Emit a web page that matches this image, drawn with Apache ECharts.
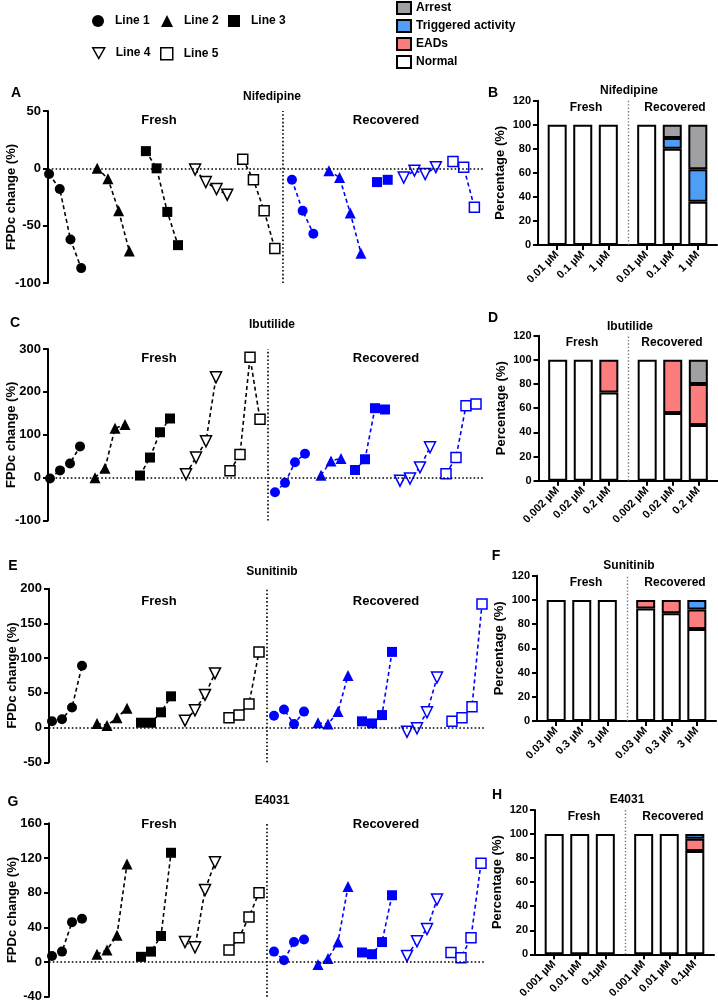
<!DOCTYPE html>
<html>
<head>
<meta charset="utf-8">
<title>FPDc change and arrhythmia percentage</title>
<script src="https://cdn.jsdelivr.net/npm/echarts@6/dist/echarts.min.js"></script>
<style>
  html, body { margin: 0; padding: 0; background: #fff; }
  #main { width: 718px; height: 1008px; }
</style>
</head>
<body>
<div id="main"></div>
<script>
// ---- data ----
var lineNames = ['Line 1', 'Line 2', 'Line 3', 'Line 4', 'Line 5'];
var drugs = ['Nifedipine', 'Ibutilide', 'Sunitinib', 'E4031'];
var groups = ['Fresh', 'Recovered'];

// FPDc change (%) per line, doses low -> high
var nifFresh = [[-5, -18, -62, -87], [0, -9, -37, -72], [15, 0, -38, -67], [-1, -12, -18, -23], [8, -10, -37, -70]];
var nifRecovered = [[-10, -37, -57], [-2, -8, -39, -74], [-12, -10], [-8, -2, -5, 1], [6, 1, -34]];
var ibuFresh = [[-2, 17, 33, 73], [0, 22, 115, 124], [5, 47, 106, 138], [8, 47, 85, 234], [16, 54, 281, 136]];
var ibuRecovered = [[-34, -12, 36, 56], [6, 39, 45], [18, 43, 162, 159], [-7, -2, 24, 71], [9, 47, 168, 172]];
var sunFresh = [[9, 12, 29, 89], [6, 3, 14, 28], [7, 7, 22, 45], [10, 25, 47, 78], [14, 18, 34, 109]];
var sunRecovered = [[17, 26, 5, 23], [7, 5, 23, 75], [9, 6, 18, 109], [-6, -1, 22, 72], [9, 14, 30, 178]];
var e40Fresh = [[7, 12, 46, 50], [9, 14, 31, 113], [6, 12, 30, 126], [23, 17, 83, 115], [14, 28, 52, 80]];
var e40Recovered = [[12, 2, 23, 26], [-3, 4, 23, 87], [11, 9, 23, 77], [7, 24, 38, 72], [11, 5, 28, 114]];

// slot where each line's first dose sits, and the Fresh/Recovered divider
var nifFreshSlot = [0.1, 4.6, 9.15, 13.75, 18.2];
var nifRecoveredSlot = [22.8, 26.25, 30.75, 33.25, 37.85];
var nifDivider = 21.95;
var ibuFreshSlot = [0.2, 4.7, 9.2, 13.8, 18.2];
var ibuRecoveredSlot = [22.7, 27.3, 30.7, 35.2, 39.8];
var ibuDivider = 22;
var sunFreshSlot = [0.3, 4.8, 9.2, 13.6, 18];
var sunRecoveredSlot = [22.5, 26.9, 31.3, 35.8, 40.3];
var sunDivider = 21.8;
var e40FreshSlot = [0.3, 4.8, 9.2, 13.6, 18];
var e40RecoveredSlot = [22.5, 26.9, 31.3, 35.8, 40.2];
var e40Divider = 21.8;

// percentage of outcomes, Fresh x3 then Recovered x3
var outcomeNames = ['Normal', 'EADs', 'Triggered activity', 'Arrest'];
var barBands = 14;                    // half-slot bands on the bar x axis
var barSlot = [1, 3, 5, 8, 10, 12];   // band of each bar
var barDivider = 7.05;
var nifDoses = ['0.01 \u00b5M', '0.1 \u00b5M', '1 \u00b5M'];
var nifNormal = [100, 100, 100, 100, 80, 36];
var nifEADs = [0, 0, 0, 0, 0, 0];
var nifTriggered = [0, 0, 0, 0, 9, 27];
var nifArrest = [0, 0, 0, 0, 11, 37];
var ibuDoses = ['0.002 \u00b5M', '0.02 \u00b5M', '0.2 \u00b5M'];
var ibuNormal = [100, 100, 73, 100, 56, 46];
var ibuEADs = [0, 0, 27, 0, 44, 34];
var ibuTriggered = [0, 0, 0, 0, 0, 0];
var ibuArrest = [0, 0, 0, 0, 0, 20];
var sunDoses = ['0.03 \u00b5M', '0.3 \u00b5M', '3 \u00b5M'];
var sunNormal = [100, 100, 100, 93, 89, 76];
var sunEADs = [0, 0, 0, 7, 11, 16];
var sunTriggered = [0, 0, 0, 0, 0, 8];
var sunArrest = [0, 0, 0, 0, 0, 0];
var e40Doses = ['0.001 \u00b5M', '0.01 \u00b5M', '0.1\u00b5M'];
var e40Normal = [100, 100, 100, 100, 100, 86];
var e40EADs = [0, 0, 0, 0, 0, 10];
var e40Triggered = [0, 0, 0, 0, 0, 4];
var e40Arrest = [0, 0, 0, 0, 0, 0];

// ---- styles / layout ----
var FONT = '"Liberation Sans", Arial, sans-serif';
var NARROW = '"Liberation Sans Narrow", "Liberation Sans", Arial, sans-serif';
var BLUE = '#0000ff';
var outcomeColors = ['#ffffff', '#fb7d7d', '#4f9ef5', '#a0a0a4'];
var triDown = 'path://M0,0L10,0L5,9Z';
var symbols = ['circle', 'triangle', 'rect', triDown, 'rect'];
var hollow = [false, false, false, true, true];

var scatterPanels = [
  {fresh: nifFresh, rec: nifRecovered, fs: nifFreshSlot, rs: nifRecoveredSlot, div: nifDivider,
   min: -100, max: 50, step: 50, xMax: 40.75, left: 48, top: 111, height: 172},
  {fresh: ibuFresh, rec: ibuRecovered, fs: ibuFreshSlot, rs: ibuRecoveredSlot, div: ibuDivider,
   min: -100, max: 300, step: 100, xMax: 43.6, left: 48, top: 349, height: 171.6},
  {fresh: sunFresh, rec: sunRecovered, fs: sunFreshSlot, rs: sunRecoveredSlot, div: sunDivider,
   min: -50, max: 200, step: 50, xMax: 43.5, left: 49, top: 588.7, height: 173.6},
  {fresh: e40Fresh, rec: e40Recovered, fs: e40FreshSlot, rs: e40RecoveredSlot, div: e40Divider,
   min: -40, max: 160, step: 40, xMax: 43.5, left: 49, top: 823.3, height: 173.4}
];

var barPanels = [
  {doses: nifDoses, vals: [nifNormal, nifEADs, nifTriggered, nifArrest], left: 538, top: 100.7, height: 144.3},
  {doses: ibuDoses, vals: [ibuNormal, ibuEADs, ibuTriggered, ibuArrest], left: 538.5, top: 335.7, height: 145},
  {doses: sunDoses, vals: [sunNormal, sunEADs, sunTriggered, sunArrest], left: 537, top: 575.7, height: 145.3},
  {doses: e40Doses, vals: [e40Normal, e40EADs, e40Triggered, e40Arrest], left: 535, top: 810, height: 144.3}
];

var axisLineStyle = {color: '#000', width: 2};
var grids = [], xAxes = [], yAxes = [], series = [];

scatterPanels.forEach(function (p, k) {
  grids.push({left: p.left, top: p.top, width: 484 - p.left, height: p.height,
              containLabel: false, outerBoundsMode: 'none'});
  xAxes.push({gridIndex: k, type: 'value', min: 0, max: p.xMax, show: false});
  yAxes.push({
    gridIndex: k, type: 'value', min: p.min, max: p.max, interval: p.step,
    axisLine: {show: true, onZero: false, lineStyle: axisLineStyle},
    axisTick: {show: true, length: 5, lineStyle: axisLineStyle},
    axisLabel: {color: '#000', fontFamily: FONT, fontWeight: 'bold', fontSize: 13, margin: 7},
    splitLine: {show: false},
    name: 'FPDc change (%)', nameLocation: 'middle', nameGap: 30, nameMoveOverlap: false,
    nameTextStyle: {color: '#000', fontFamily: FONT, fontWeight: 'bold', fontSize: 13}
  });
  [[p.fresh, p.fs, '#000'], [p.rec, p.rs, BLUE]].forEach(function (g, c) {
    g[0].forEach(function (vals, j) {
      var s = {
        type: 'line', name: lineNames[j], xAxisIndex: k, yAxisIndex: k,
        data: vals.map(function (v, i) { return [g[1][j] + i, v]; }),
        symbol: symbols[j],
        symbolSize: (j === 1 || j === 3) ? 11 : 10,
        itemStyle: hollow[j] ? {color: '#fff', borderColor: g[2], borderWidth: 1.5} : {color: g[2]},
        lineStyle: {color: g[2], width: 1.6, type: [4, 3]},
        emphasis: {disabled: true},
        z: 3
      };
      if (c === 0 && j === 0) {
        s.markLine = {
          silent: true, symbol: ['none', 'none'], label: {show: false},
          lineStyle: {color: '#000', width: 1.6, type: [1.6, 2.2]},
          data: [{yAxis: 0}, {xAxis: p.div}]
        };
      }
      series.push(s);
    });
  });
});

var axisCount = 4;
barPanels.forEach(function (p, b) {
  var g = 4 + b;
  var catAxis = axisCount, lineAxis = axisCount + 1;
  axisCount += 2;
  var doseLabels = p.doses.concat(p.doses);
  var cats = [];
  for (var i = 0; i < barBands; i++) cats.push('');
  barSlot.forEach(function (s, i) { cats[s] = doseLabels[i]; });
  var isBar = function (idx) { return barSlot.indexOf(idx) >= 0; };

  grids.push({left: p.left, top: p.top, width: 179, height: p.height,
              containLabel: false, outerBoundsMode: 'none'});
  xAxes.push({
    gridIndex: g, type: 'category', data: cats,
    axisLine: {show: true, lineStyle: axisLineStyle},
    axisTick: {show: true, length: 5, alignWithLabel: true, interval: isBar, lineStyle: axisLineStyle},
    axisLabel: {interval: isBar, rotate: 45, margin: 8,
                color: '#000', fontFamily: FONT, fontWeight: 'bold', fontSize: 11},
    splitLine: {show: false}
  });
  // hidden value axis used only to place the divider between Fresh and Recovered
  xAxes.push({gridIndex: g, type: 'value', min: 0, max: barBands, show: false});
  yAxes.push({
    gridIndex: g, type: 'value', min: 0, max: 120, interval: 20,
    axisLine: {show: true, onZero: false, lineStyle: axisLineStyle},
    axisTick: {show: true, length: 5, lineStyle: axisLineStyle},
    axisLabel: {color: '#000', fontFamily: FONT, fontWeight: 'bold', fontSize: 11, margin: 7},
    splitLine: {show: false},
    name: 'Percentage (%)', nameLocation: 'middle', nameGap: 31, nameMoveOverlap: false,
    nameTextStyle: {color: '#000', fontFamily: FONT, fontWeight: 'bold', fontSize: 13}
  });
  p.vals.forEach(function (arr, o) {
    var data = [];
    for (var i = 0; i < barBands; i++) data.push(null);
    // empty outcomes are left out so they draw no zero-height outline
    barSlot.forEach(function (s, i) { data[s] = arr[i] > 0 ? arr[i] : null; });
    series.push({
      type: 'bar', name: outcomeNames[o], xAxisIndex: catAxis, yAxisIndex: g,
      stack: 'pct' + b, barWidth: 19, data: data,
      itemStyle: {color: outcomeColors[o], borderColor: '#000', borderWidth: 2},
      emphasis: {disabled: true}
    });
  });
  series.push({
    type: 'scatter', xAxisIndex: lineAxis, yAxisIndex: g, symbolSize: 0, silent: true,
    data: [[barDivider, 0]],
    markLine: {
      silent: true, symbol: ['none', 'none'], label: {show: false},
      lineStyle: {color: '#777', width: 1.4, type: [1.4, 2]},
      data: [{xAxis: barDivider}]
    }
  });
});

// legends
var symLegendPos = [[92, 15], [161, 15], [228, 15], [92, 47], [160, 47]];
var legends = lineNames.map(function (n, j) {
  return {
    left: symLegendPos[j][0], top: symLegendPos[j][1], padding: 0,
    selectedMode: false, itemWidth: 12, itemHeight: 12,
    data: [{
      name: n, icon: symbols[j],
      itemStyle: hollow[j] ? {color: '#fff', borderColor: '#000', borderWidth: 1.5} : {color: '#000', borderWidth: 0}
    }],
    textStyle: {color: '#000', fontFamily: NARROW, fontWeight: 'bold', fontSize: 12, padding: [0, 0, 0, 6]}
  };
});
legends.push({
  orient: 'vertical', left: 396, top: 1, padding: 0, selectedMode: false,
  itemWidth: 14, itemHeight: 12, itemGap: 4, icon: 'rect',
  data: outcomeNames.slice().reverse(),
  itemStyle: {borderColor: '#000', borderWidth: 2},
  textStyle: {color: '#000', fontFamily: NARROW, fontWeight: 'bold', fontSize: 12, lineHeight: 12}
});

// text labels
function txt(s, x, y, size) {
  return {
    type: 'text', silent: true,
    style: {text: s, x: x, y: y, textAlign: 'center', textVerticalAlign: 'middle',
            font: 'bold ' + size + 'px ' + FONT, fill: '#000'}
  };
}
var letters = [['A', 16, 93], ['B', 493, 93], ['C', 15, 323], ['D', 493, 318],
               ['E', 13, 566], ['F', 496, 556], ['G', 13, 802], ['H', 497, 795]];
var scatterTitleY = [97, 325, 572, 801];
var scatterGroupY = [120, 358, 601, 824];
var barTitlePos = [[629, 91], [630, 327], [629, 566], [627, 800]];
var barFreshPos = [[586, 108], [582, 343], [586, 583], [584, 817]];
var barRecPos = [[675, 108], [672, 343], [675, 583], [673, 817]];

var graphics = [];
letters.forEach(function (l) { graphics.push(txt(l[0], l[1], l[2], 14)); });
drugs.forEach(function (d, k) {
  graphics.push(txt(d, 272, scatterTitleY[k], 12));
  graphics.push(txt(groups[0], 159, scatterGroupY[k], 13));
  graphics.push(txt(groups[1], 386, scatterGroupY[k], 13));
  graphics.push(txt(d, barTitlePos[k][0], barTitlePos[k][1], 12));
  graphics.push(txt(groups[0], barFreshPos[k][0], barFreshPos[k][1], 12));
  graphics.push(txt(groups[1], barRecPos[k][0], barRecPos[k][1], 12));
});

var chart = echarts.init(document.getElementById('main'));
var option = {
  backgroundColor: '#ffffff',
  animation: false,
  grid: grids,
  xAxis: xAxes,
  yAxis: yAxes,
  legend: legends,
  graphic: graphics,
  series: series
};
chart.setOption(option);
</script>
</body>
</html>
